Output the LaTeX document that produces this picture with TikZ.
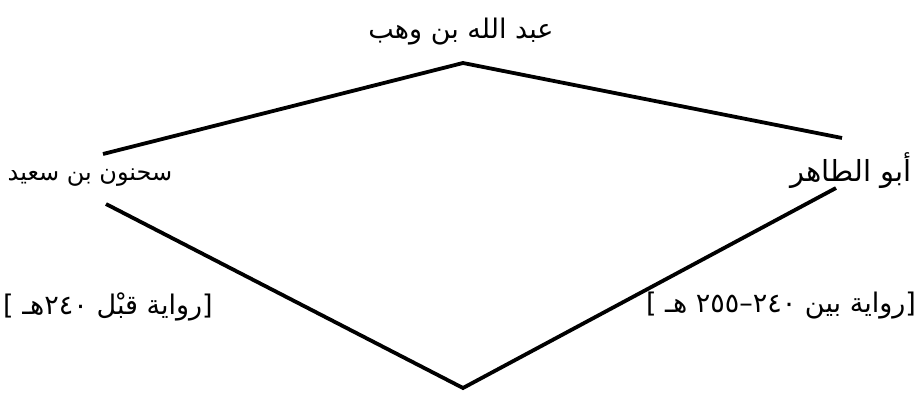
\documentclass[tikz,border=0pt]{standalone}
\usepackage{fontspec}
\TeXXeTstate=1
\newfontfamily\arabicfont[Script=Arabic]{DejaVu Sans}
\begin{document}
\begin{tikzpicture}[x=1pt,y=-1pt,
  lbl/.style={font=\arabicfont\fontsize{27}{32}\selectfont, inner sep=0pt, anchor=center},
  edge/.style={line width=3.8pt, line cap=butt}]
\useasboundingbox (0,0) rectangle (920,393);
\coordinate (top) at (463,63);
\coordinate (bot) at (463,388);
\coordinate (lup) at (103,154);
\coordinate (rup) at (842,138);
\coordinate (llo) at (106,204);
\coordinate (rlo) at (836,188);
\node[lbl] (wahb) at (461,32) {\beginR عبد الله بن وهب\endR};
\node[lbl, font=\arabicfont\fontsize{24}{28}\selectfont] (sahnun) at (90,178) {\beginR سحنون بن سعيد\endR};
\node[lbl, font=\arabicfont\fontsize{29}{34}\selectfont] (tahir) at (851,171) {\beginR أبو الطاهر\endR};
\node[lbl] (qabl) at (108,307) {\beginR [رواية قبْل ٢٤٠هـ ]\endR};
\node[lbl] (bayn) at (781,306) {\beginR [رواية بين ٢٤٠–٢٥٥ هـ ]\endR};
\draw[edge] (lup) -- (top) -- (rup);
\draw[edge] (llo) -- (bot) -- (rlo);
\end{tikzpicture}
\end{document}
